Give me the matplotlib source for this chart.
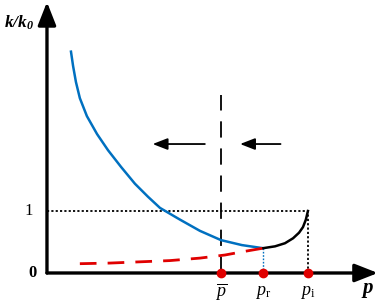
#! /usr/bin/env python3

import numpy as np
import matplotlib.pyplot as plt

plt.rcParams['mathtext.fontset'] = 'custom'
plt.rcParams['mathtext.it'] = 'Liberation Serif:italic'
plt.rcParams['mathtext.rm'] = 'Liberation Serif'
plt.rcParams['mathtext.bf'] = 'Liberation Serif:bold:italic'

# Schematic curves (p in arbitrary units, p_i = 10; k/k0)
blue_p = [0.92, 1.00, 1.11, 1.26, 1.53, 1.92, 2.34, 2.84, 3.37, 3.87,
          4.33, 5.10, 5.86, 6.67, 7.47, 8.28]
blue_k = [3.57, 3.34, 3.08, 2.82, 2.53, 2.24, 1.98, 1.71, 1.44, 1.23,
          1.05, 0.86, 0.68, 0.53, 0.45, 0.40]

black_p = [8.28, 8.74, 9.12, 9.43, 9.66, 9.81, 9.92, 10.0]
black_k = [0.40, 0.43, 0.48, 0.56, 0.65, 0.74, 0.86, 1.00]

red_p = [1.26, 2.41, 3.56, 4.71, 5.86, 6.82, 7.59, 8.28]
red_k = [0.15, 0.16, 0.18, 0.20, 0.24, 0.29, 0.35, 0.40]

p_bar, p_r, p_i = 6.67, 8.28, 10.0
marks = [p_bar, p_r, p_i]
mark_labels = [r'$\overline{p}$', r'$p_{\mathrm{r}}$', r'$p_{\mathrm{i}}$']

fig = plt.figure(figsize=(3.81, 3.03), dpi=100)
ax = fig.add_axes([0, 0, 1, 1])
ax.set_xlim(-1.80, 12.80)
ax.set_ylim(-0.484, 4.403)
ax.axis('off')

# axes with arrows
ax.annotate('', xy=(12.68, 0), xytext=(0, 0),
            arrowprops=dict(arrowstyle='-|>,head_length=1.4,head_width=0.55',
                            lw=2.4, color='black', shrinkA=0, shrinkB=0))
ax.annotate('', xy=(0, 4.37), xytext=(0, 0),
            arrowprops=dict(arrowstyle='-|>,head_length=1.4,head_width=0.55',
                            lw=2.4, color='black', shrinkA=0, shrinkB=0))

# reference lines
ax.plot([0, p_i], [1, 1], color='black', lw=1.3, ls=(0, (1.2, 1.2)))
ax.plot([p_i, p_i], [0, 1], color='black', lw=1.3, ls=(0, (1.2, 1.2)))
ax.plot([p_r, p_r], [0, 0.40], color='#0070C0', lw=1.0, ls=(0, (1.2, 1.2)))
ax.plot([p_bar, p_bar], [0, 2.87], color='black', lw=1.3, ls=(0, (9, 6)))

# curves
ax.plot(blue_p, blue_k, color='#0070C0', lw=1.8, solid_joinstyle='round')
ax.plot(black_p, black_k, color='black', lw=1.8, solid_joinstyle='round')
ax.plot(red_p, red_k, color='#E00000', lw=2.0, ls=(0, (6, 4)))

# points on the p axis
ax.plot(marks, [0, 0, 0], 'o', color='#E00000', ms=6, zorder=5)

# direction arrows
ax.annotate('', xy=(4.05, 2.08), xytext=(6.05, 2.08),
            arrowprops=dict(arrowstyle='-|>,head_length=0.9,head_width=0.35',
                            lw=1.3, color='black', shrinkA=0, shrinkB=0))
ax.annotate('', xy=(7.40, 2.08), xytext=(8.95, 2.08),
            arrowprops=dict(arrowstyle='-|>,head_length=0.9,head_width=0.35',
                            lw=1.3, color='black', shrinkA=0, shrinkB=0))

# labels
for x, lab in zip(marks, mark_labels):
    ax.text(x, -0.30, lab, ha='center', va='center', fontsize=13)
ax.text(12.3, -0.27, r'$\mathbf{p}$', ha='center', va='center', fontsize=15)
ax.text(-1.05, 4.03, r'$\mathbf{k/k_0}$', ha='center', va='center', fontsize=12.5)
ax.text(-0.72, 1.0, '1', ha='center', va='center', fontsize=12,
        family='Liberation Serif')
ax.text(-0.55, 0.0, '0', ha='center', va='center', fontsize=12,
        family='Liberation Serif', weight='bold')

fig.savefig('out.png', dpi=100)
